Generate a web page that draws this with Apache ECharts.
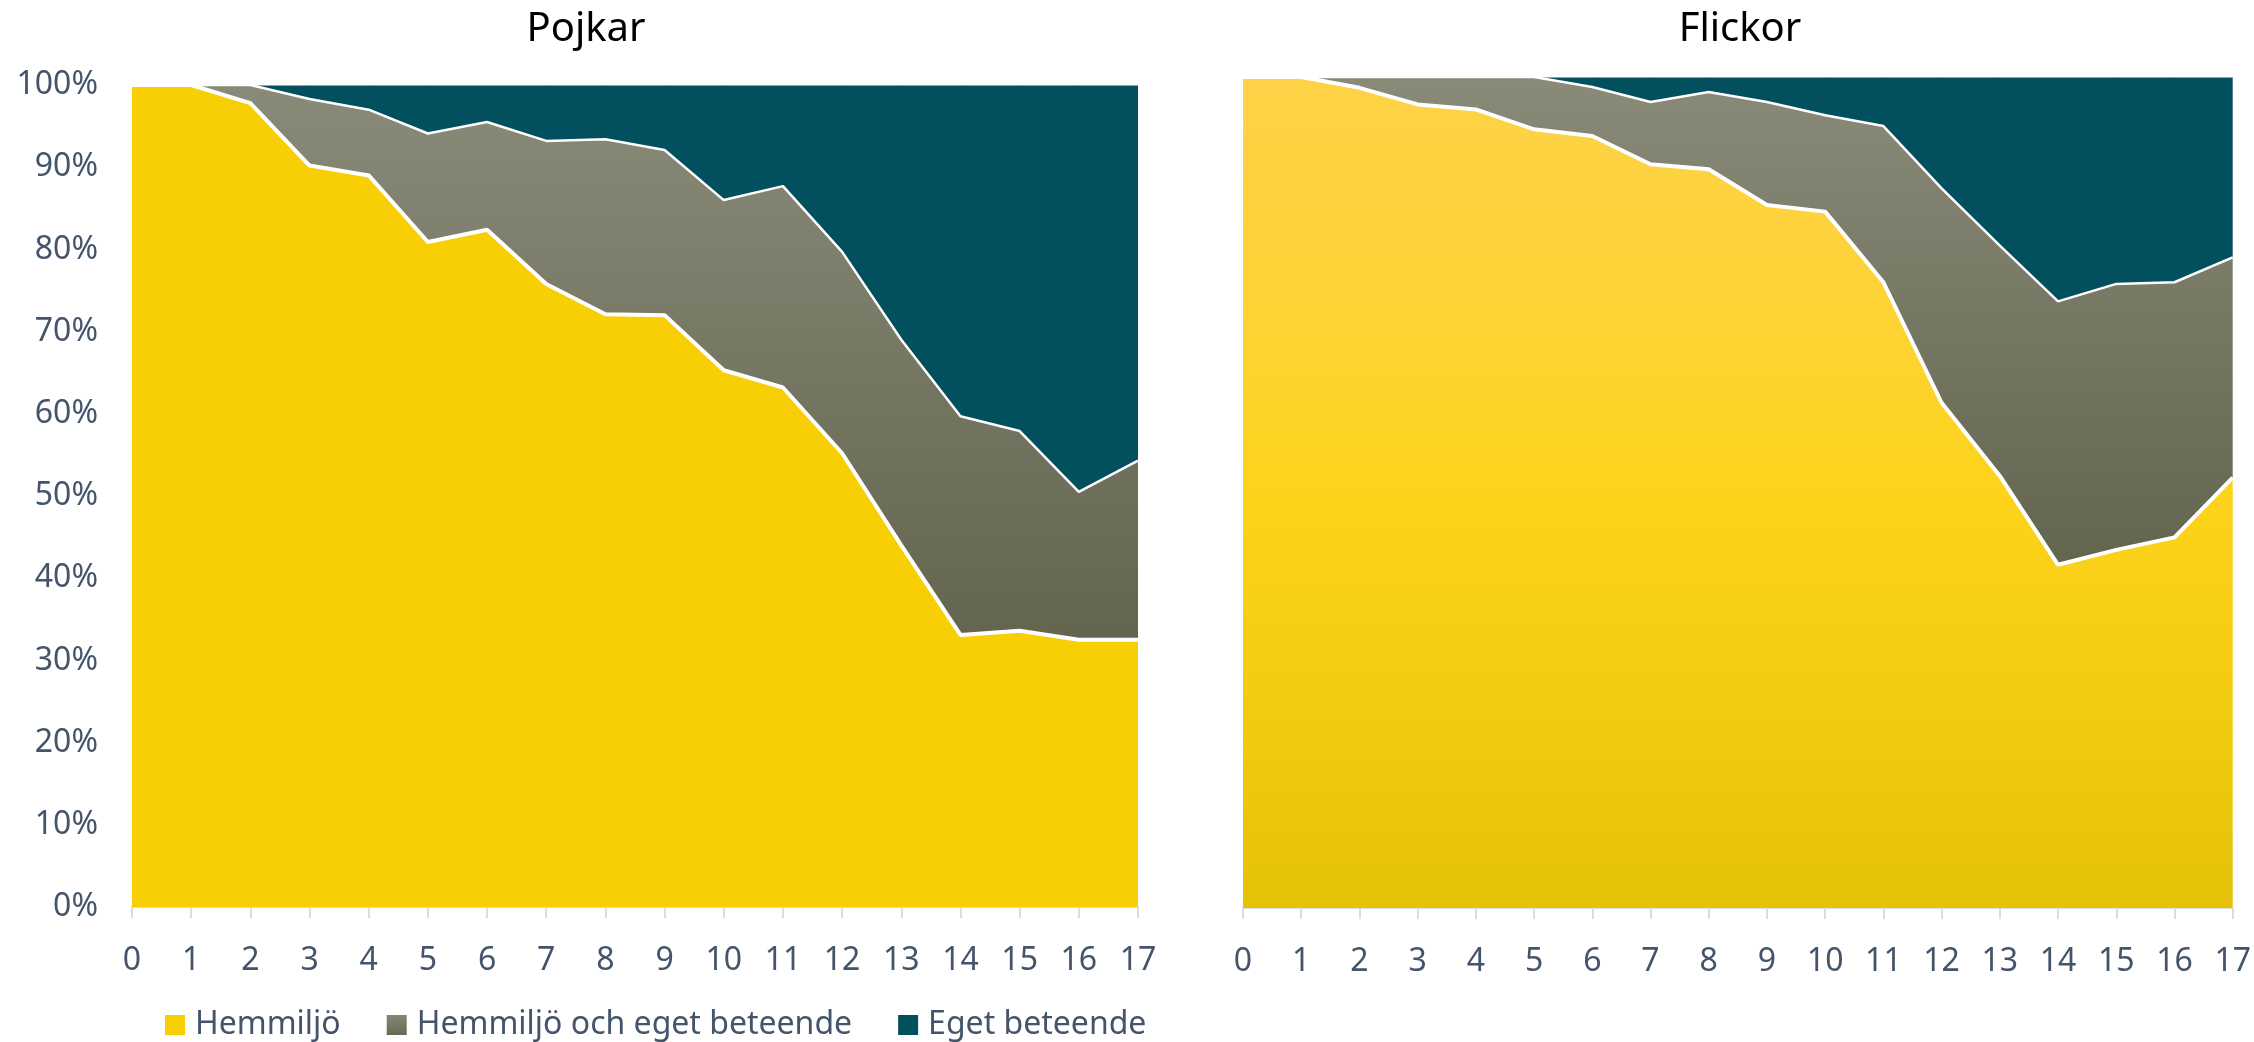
<!DOCTYPE html>
<html>
<head>
<meta charset="utf-8">
<script src="https://cdn.jsdelivr.net/npm/echarts@6/dist/echarts.min.js"></script>
<style>
html,body{margin:0;padding:0;background:#fff;}
#c{width:2254px;height:1042px;}
</style>
</head>
<body>
<div id="c"></div>
<script>
const ages = ['0','1','2','3','4','5','6','7','8','9','10','11','12','13','14','15','16','17'];
const seriesNames = ['Hemmiljö', 'Hemmiljö och eget beteende', 'Eget beteende'];
const yTicks = [0,10,20,30,40,50,60,70,80,90,100];

// Pojkar (percent)
const boysHome  = [100, 100, 97.8, 90.2, 89.0, 80.9, 82.4, 75.8, 72.1, 72.0, 65.3, 63.2, 55.2, 44.0, 33.1, 33.6, 32.5, 32.5];
const boysBoth  = [0, 0, 2.2, 8.1, 8.0, 13.2, 13.1, 17.4, 21.3, 20.1, 20.7, 24.5, 24.5, 25.0, 26.6, 24.3, 18.0, 21.8];
const boysOwn   = [0, 0, 0, 1.7, 3.0, 5.9, 4.5, 6.8, 6.6, 7.9, 14.0, 12.3, 20.3, 31.0, 40.3, 42.1, 49.5, 45.7];

// Flickor (percent)
const girlsHome = [100, 100, 98.7, 96.7, 96.1, 93.7, 92.9, 89.5, 88.9, 84.6, 83.8, 75.3, 60.8, 52.0, 41.3, 43.1, 44.6, 51.8];
const girlsBoth = [0, 0, 1.3, 3.3, 3.9, 6.3, 5.9, 7.5, 9.3, 12.4, 11.6, 18.8, 25.8, 27.7, 31.7, 32.0, 30.7, 26.5];
const girlsOwn  = [0, 0, 0, 0, 0, 0, 1.2, 3.0, 1.8, 3.0, 4.6, 5.9, 13.4, 20.3, 27.0, 24.9, 24.7, 21.7];

const FONT = 'Noto Sans';
const LABEL = '#44546A';
const grad = (stops) => new echarts.graphic.LinearGradient(0, 0, 0, 1, stops.map(s => ({offset:s[0], color:s[1]})));

const grayGrad = () => grad([[0,'#898A78'],[1,'#63654F']]);

function xAxis(gi){
  return {
    type:'category', gridIndex:gi, data:ages, boundaryGap:false,
    axisLine:{lineStyle:{color:'#D9DCE1', width:2}},
    axisTick:{show:true, length:11, lineStyle:{color:'#D9DCE1', width:2}},
    axisLabel:{color:LABEL, fontFamily:FONT, fontSize:32, margin:38},
    splitLine:{show:false}
  };
}
function yAxis(gi, showLabels){
  return {
    type:'value', gridIndex:gi, min:yTicks[0], max:yTicks[yTicks.length-1], interval:10,
    axisLine:{show:false}, axisTick:{show:false}, splitLine:{show:false},
    axisLabel:{show:showLabels, color:LABEL, fontFamily:FONT, fontSize:32, margin:34, formatter:'{value}%'}
  };
}
function mk(name, data, gi, stack, z, area, lineW){
  return {
    name, type:'line', xAxisIndex:gi, yAxisIndex:gi, stack, data, z,
    showSymbol:false, symbol:'none', smooth:false,
    lineStyle:{color:'#ffffff', width:lineW},
    areaStyle:{color:area, opacity:1},
    itemStyle:{color: typeof area === 'string' ? area : '#76776A'},
    emphasis:{disabled:true}
  };
}

const chart = echarts.init(document.getElementById('c'), null, {renderer:'canvas'});
chart.setOption({
  animation:false,
  backgroundColor:'#ffffff',
  title:[
    {text:'Pojkar', left:581, top:5, textAlign:'center', textStyle:{fontFamily:FONT, fontSize:40, fontWeight:'normal', color:'#000'}},
    {text:'Flickor', left:1735, top:5, textAlign:'center', textStyle:{fontFamily:FONT, fontSize:40, fontWeight:'normal', color:'#000'}}
  ],
  grid:[
    {left:132, top:85, width:1006, height:822},
    {left:1243, top:77, width:990, height:831}
  ],
  xAxis:[xAxis(0), xAxis(1)],
  yAxis:[yAxis(0,true), yAxis(1,false)],
  legend:{
    left:160, top:1004, itemWidth:20, itemHeight:20, itemGap:46, icon:'rect',
    itemStyle:{borderWidth:0},
    textStyle:{fontFamily:FONT, fontSize:32, color:LABEL, padding:[0,0,0,5]},
    data:[
      {name:seriesNames[0], itemStyle:{color:'#F8CF05'}},
      {name:seriesNames[1], itemStyle:{color:grad([[0,'#858674'],[1,'#686A56']])}},
      {name:seriesNames[2], itemStyle:{color:'#024F5E'}}
    ]
  },
  series:[
    mk(seriesNames[0], boysHome, 0, 'L', 5, '#F8CF05', 4),
    mk(seriesNames[1], boysBoth, 0, 'L', 4, grayGrad(), 2.5),
    mk(seriesNames[2], boysOwn, 0, 'L', 3, '#024F5E', 1),
    mk(seriesNames[0], girlsHome, 1, 'R', 5, grad([[0,'#FED247'],[0.28,'#FDD336'],[0.5,'#FDD31C'],[0.75,'#F2CC10'],[1,'#E4C208']]), 4),
    mk(seriesNames[1], girlsBoth, 1, 'R', 4, grayGrad(), 2.5),
    mk(seriesNames[2], girlsOwn, 1, 'R', 3, '#024F5E', 1)
  ]
});
</script>
</body>
</html>
